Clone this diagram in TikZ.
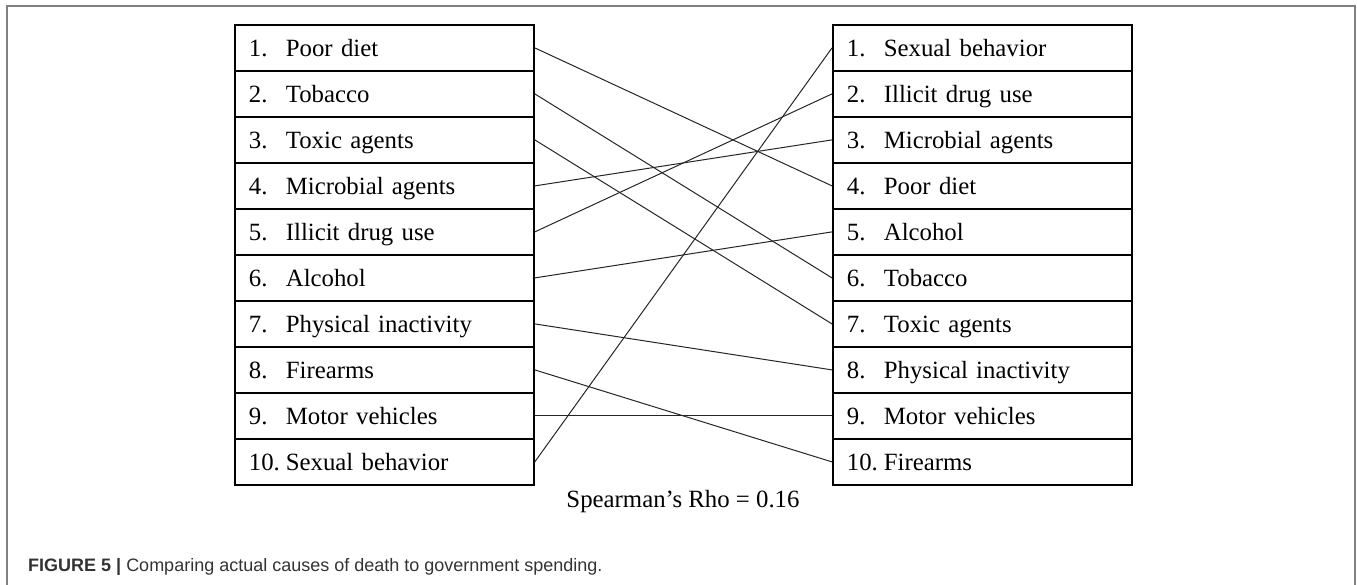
\documentclass[tikz,border=0pt]{standalone}
\usepackage{fontspec}
\setmainfont{Liberation Serif}
\newfontfamily\capfont{Liberation Sans}
\begin{document}
\begin{tikzpicture}[x=1pt,y=-1pt,
  rowbox/.style={draw, line width=1.8pt, rectangle, anchor=north west,
    minimum width=299pt, minimum height=46pt, text width=271pt,
    inner xsep=14pt, inner ysep=0pt, align=left,
    text height=20pt, text depth=3pt, font=\fontsize{24.8}{30}\selectfont},
  link/.style={line width=1pt, draw=black!85},
  frame/.style={draw=black!50, line width=1.5pt}]
\useasboundingbox (0,0) rectangle (1357,585);
\coordinate (fa) at (7,600);
\coordinate (fb) at (7,6);
\coordinate (fc) at (1355,6);
\coordinate (fd) at (1355,600);
\draw[frame] (fa) -- (fb) -- (fc) -- (fd);

\newcommand{\nb}[1]{\makebox[37pt][l]{#1}}
\node[rowbox] (L1)  at (234,24)  {\nb{1.}Poor diet};
\node[rowbox] (L2)  at (234,70)  {\nb{2.}Tobacco};
\node[rowbox] (L3)  at (234,116) {\nb{3.}Toxic agents};
\node[rowbox] (L4)  at (234,162) {\nb{4.}Microbial agents};
\node[rowbox] (L5)  at (234,208) {\nb{5.}Illicit drug use};
\node[rowbox] (L6)  at (234,254) {\nb{6.}Alcohol};
\node[rowbox] (L7)  at (234,300) {\nb{7.}Physical inactivity};
\node[rowbox] (L8)  at (234,346) {\nb{8.}Firearms};
\node[rowbox] (L9)  at (234,392) {\nb{9.}Motor vehicles};
\node[rowbox] (L10) at (234,438) {\nb{10.}Sexual behavior};

\node[rowbox] (R1)  at (832,24)  {\nb{1.}Sexual behavior};
\node[rowbox] (R2)  at (832,70)  {\nb{2.}Illicit drug use};
\node[rowbox] (R3)  at (832,116) {\nb{3.}Microbial agents};
\node[rowbox] (R4)  at (832,162) {\nb{4.}Poor diet};
\node[rowbox] (R5)  at (832,208) {\nb{5.}Alcohol};
\node[rowbox] (R6)  at (832,254) {\nb{6.}Tobacco};
\node[rowbox] (R7)  at (832,300) {\nb{7.}Toxic agents};
\node[rowbox] (R8)  at (832,346) {\nb{8.}Physical inactivity};
\node[rowbox] (R9)  at (832,392) {\nb{9.}Motor vehicles};
\node[rowbox] (R10) at (832,438) {\nb{10.}Firearms};

\draw[link] (L1.east) -- (R4.west);
\draw[link] (L2.east) -- (R6.west);
\draw[link] (L3.east) -- (R7.west);
\draw[link] (L4.east) -- (R3.west);
\draw[link] (L5.east) -- (R2.west);
\draw[link] (L6.east) -- (R5.west);
\draw[link] (L7.east) -- (R8.west);
\draw[link] (L8.east) -- (R10.west);
\draw[link] (L9.east) -- (R9.west);
\draw[link] (L10.east) -- (R1.west);

\node[anchor=base, inner sep=0pt, font=\fontsize{24.8}{30}\selectfont] (rho) at (683,507) {Spearman’s Rho = 0.16};

\node[anchor=base west, inner sep=0pt, text=black!80, font=\capfont\fontsize{18}{20}\selectfont] (cap) at (28,571.7) {\textbf{FIGURE 5 |} Comparing actual causes of death to government spending.};
\end{tikzpicture}
\end{document}
